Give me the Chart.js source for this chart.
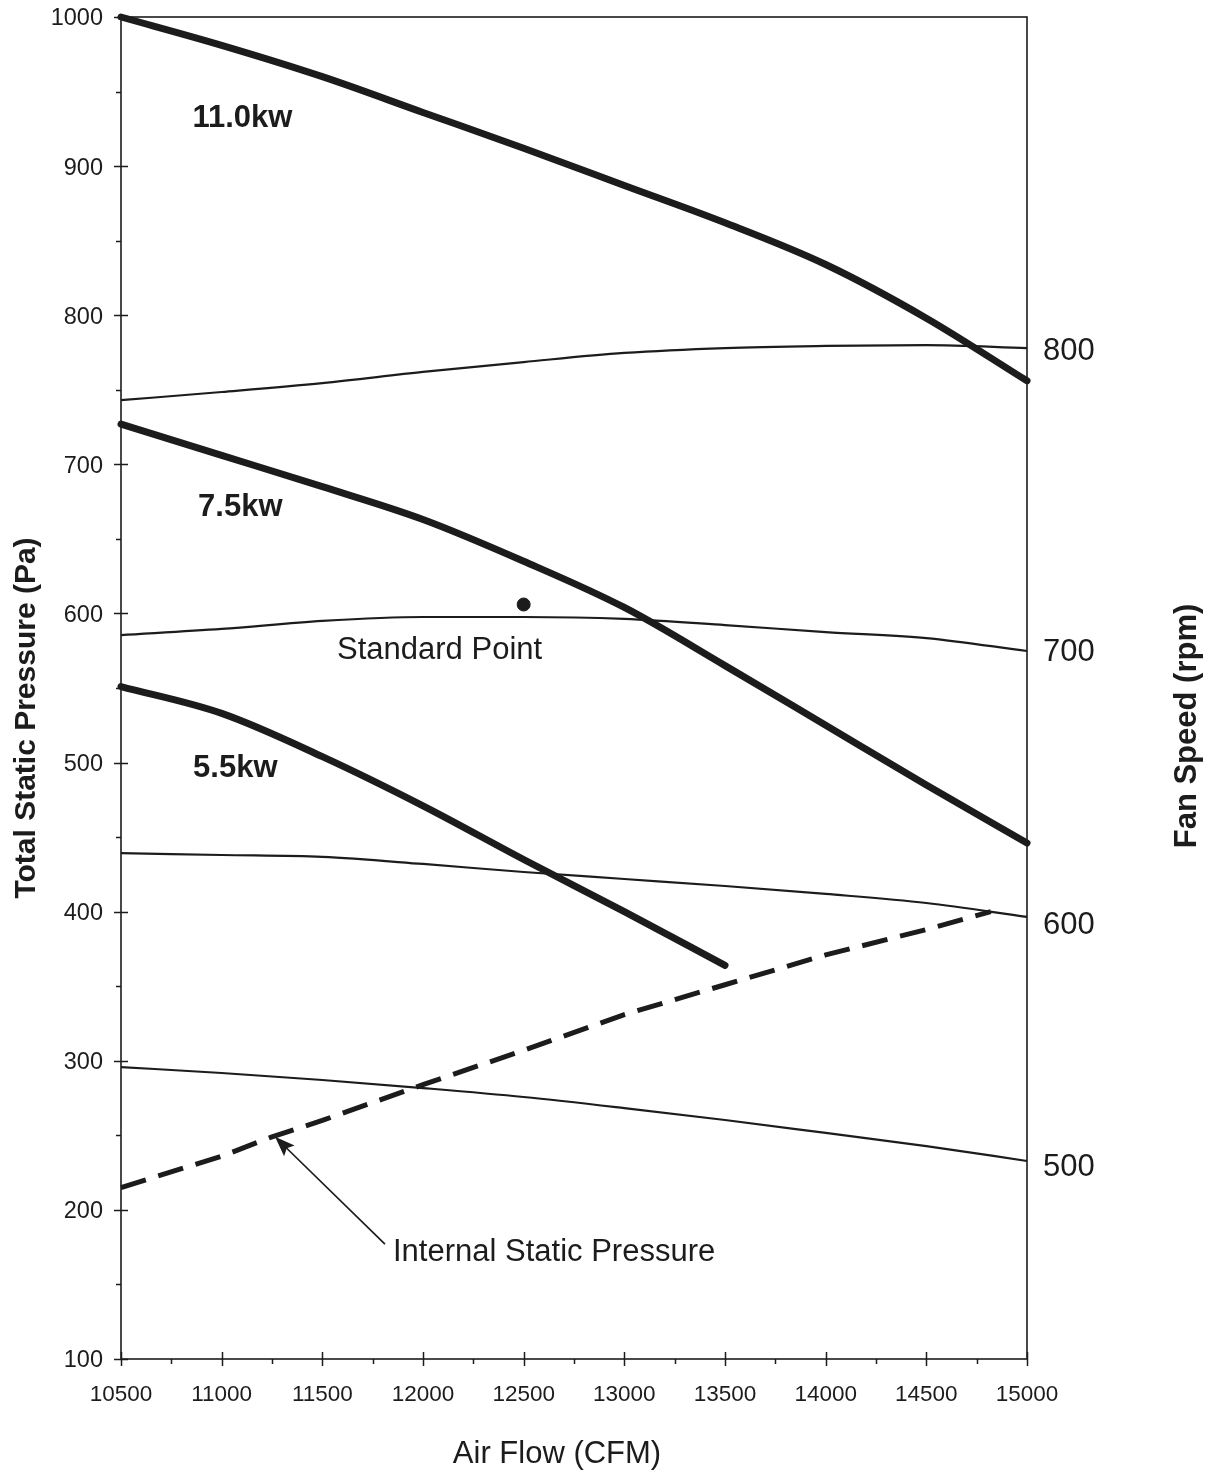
<!DOCTYPE html>
<html>
<head>
<meta charset="utf-8">
<script src="https://cdn.jsdelivr.net/npm/chart.js@4/dist/chart.umd.min.js"></script>
<style>
  html, body { margin: 0; padding: 0; background: #fff; }
  #wrap { width: 1212px; height: 1474px; }
</style>
</head>
<body>
<div id="wrap"><canvas id="c" width="1212" height="1474"></canvas></div>
<script>
// Air flow (CFM) sample positions
const airflow = [10500, 11000, 11500, 12000, 12500, 13000, 13500, 14000, 14500, 15000];
const airflow55 = [10500, 11000, 11500, 12000, 12500, 13000, 13500];

// Total static pressure (Pa) for each motor power
const kw110 = [1000, 981, 960, 936, 912, 887, 862, 834, 798, 756];
const kw75 = [727, 706, 685, 663, 635, 604, 565, 525, 485, 446];
const kw55 = [551, 533, 504, 471, 435, 400, 364];

// Constant fan-speed curves (Pa)
const rpm800 = [743, 748.5, 754.5, 762, 768.6, 774.7, 778, 779.4, 780, 778];
const rpm700 = [585.5, 589.6, 595, 597.6, 597.6, 596.3, 592.2, 587.5, 583.5, 574.8];
const rpm600 = [439.3, 438, 436.7, 432, 426.6, 421.9, 417.2, 411.9, 405.8, 396.5];
const rpm500 = [295.8, 291.8, 287.1, 281.7, 275.7, 268.3, 260.3, 251.6, 242.8, 232.8];

// Internal static pressure of the unit
const internalFlow = [10500, 11000, 11250, 11500, 12000, 12500, 13000, 13500, 14000, 14500, 14820];
const internalPa = [215, 236, 249, 260, 284, 307, 331, 351, 371, 388, 400];

// Standard operating point
const standardFlow = [12500];
const standardPa = [606];

// Fan speed labels on the right-hand axis and where they sit (Pa)
const fanSpeedLabels = ['800', '700', '600', '500'];
const fanSpeedLabelPa = [777, 575.5, 392.4, 230.1];

const FONT = "'Liberation Sans', Arial, Helvetica, sans-serif";
const INK = '#1c1c1c';

function pts(xs, ys) { return ys.map((y, i) => ({ x: xs[i], y: y })); }

const thick = { borderColor: INK, borderWidth: 7, pointRadius: 0, fill: false,
  cubicInterpolationMode: 'monotone', borderCapStyle: 'round', borderJoinStyle: 'round', clip: false };
const thin = { borderColor: INK, borderWidth: 2.2, pointRadius: 0, fill: false,
  cubicInterpolationMode: 'monotone', clip: false };

// Text notes placed in data coordinates
const notes = [
  { text: '11.0kw', flow: 10855, pa: 932, bold: true },
  { text: '7.5kw', flow: 10883, pa: 671, bold: true },
  { text: '5.5kw', flow: 10858, pa: 496, bold: true },
  { text: 'Standard Point', flow: 11573, pa: 575.5, bold: false },
  { text: 'Internal Static Pressure', flow: 11851, pa: 171.5, bold: false }
];
const pointer = { fromFlow: 11811, fromPa: 177, toFlow: 11265, toPa: 249 };

// Remove the automatic label overhang so the plot frame sits where the layout says
function noOverhang(s) { s.paddingTop = 0; s.paddingBottom = 0; s.paddingLeft = 0; s.paddingRight = 0; }

// Frame, crossing major ticks and outside minor ticks
const axisDecor = {
  id: 'axisDecor',
  beforeDatasetsDraw(chart) {
    const { ctx, chartArea: a, scales } = chart;
    const xs = scales.x, ys = scales.y;
    ctx.save();
    ctx.strokeStyle = INK;
    ctx.lineWidth = 1.6;
    ctx.strokeRect(a.left, a.top, a.right - a.left, a.bottom - a.top);
    ctx.lineWidth = 1.5;
    ctx.beginPath();
    for (let v = ys.min; v <= ys.max + 1e-6; v += 50) {
      const py = Math.round(ys.getPixelForValue(v)) + 0.5;
      const major = Math.abs(v % 100) < 1e-6;
      ctx.moveTo(a.left - (major ? 7 : 5), py);
      ctx.lineTo(a.left + (major ? 7 : 0), py);
    }
    for (let v = xs.min; v <= xs.max + 1e-6; v += 250) {
      const px = Math.round(xs.getPixelForValue(v)) + 0.5;
      const major = Math.abs((v - xs.min) % 500) < 1e-6;
      ctx.moveTo(px, a.bottom + (major ? 7 : 5));
      ctx.lineTo(px, a.bottom - (major ? 7 : 0));
    }
    ctx.stroke();
    ctx.restore();
  },
  afterDraw(chart) {
    const { ctx, chartArea: a, scales } = chart;
    const xs = scales.x, ys = scales.y;
    ctx.save();
    ctx.fillStyle = INK;
    ctx.textBaseline = 'middle';
    ctx.textAlign = 'left';
    notes.forEach(n => {
      ctx.font = (n.bold ? 'bold ' : '') + '31px ' + FONT;
      ctx.fillText(n.text, xs.getPixelForValue(n.flow), ys.getPixelForValue(n.pa));
    });
    // pointer arrow to the internal static pressure line
    const x0 = xs.getPixelForValue(pointer.fromFlow), y0 = ys.getPixelForValue(pointer.fromPa);
    const x1 = xs.getPixelForValue(pointer.toFlow), y1 = ys.getPixelForValue(pointer.toPa);
    const ang = Math.atan2(y1 - y0, x1 - x0);
    const c = Math.cos(ang), s = Math.sin(ang);
    const headLen = 20, headW = 7.5;
    ctx.strokeStyle = INK;
    ctx.lineWidth = 1.7;
    ctx.beginPath();
    ctx.moveTo(x0, y0);
    ctx.lineTo(x1 - c * headLen * 0.8, y1 - s * headLen * 0.8);
    ctx.stroke();
    ctx.beginPath();
    ctx.moveTo(x1, y1);
    ctx.lineTo(x1 - c * headLen + s * headW, y1 - s * headLen - c * headW);
    ctx.lineTo(x1 - c * headLen * 0.82, y1 - s * headLen * 0.82);
    ctx.lineTo(x1 - c * headLen - s * headW, y1 - s * headLen + c * headW);
    ctx.closePath();
    ctx.fill();

    // axis titles
    ctx.textAlign = 'center';
    ctx.save();
    ctx.font = 'bold 30px ' + FONT;
    ctx.translate(a.left - 94, (a.top + a.bottom) / 2 + 30);
    ctx.rotate(-Math.PI / 2);
    ctx.fillText('Total Static Pressure (Pa)', 0, 0);
    ctx.restore();
    ctx.save();
    ctx.font = 'bold 31px ' + FONT;
    ctx.translate(a.right + 160, (a.top + a.bottom) / 2 + 38);
    ctx.rotate(-Math.PI / 2);
    ctx.fillText('Fan Speed (rpm)', 0, 0);
    ctx.restore();
    ctx.font = '31px ' + FONT;
    ctx.fillText('Air Flow (CFM)', (a.left + a.right) / 2 - 17, a.bottom + 95);
    ctx.restore();
  }
};

new Chart(document.getElementById('c'), {
  type: 'line',
  data: {
    datasets: [
      { ...thick, data: pts(airflow, kw110) },
      { ...thick, data: pts(airflow, kw75) },
      { ...thick, data: pts(airflow55, kw55) },
      { ...thin, data: pts(airflow, rpm800) },
      { ...thin, data: pts(airflow, rpm700) },
      { ...thin, data: pts(airflow, rpm600) },
      { ...thin, data: pts(airflow, rpm500) },
      { data: pts(internalFlow, internalPa), borderColor: INK, borderWidth: 5, borderDash: [26, 13],
        pointRadius: 0, fill: false, tension: 0, clip: false },
      { type: 'scatter', data: pts(standardFlow, standardPa), backgroundColor: INK, borderColor: INK,
        pointRadius: 6.5, pointHoverRadius: 6.5, showLine: false }
    ]
  },
  options: {
    responsive: false,
    animation: false,
    events: [],
    layout: { padding: { top: 17, left: 0, right: 0, bottom: 0 } },
    plugins: { legend: { display: false }, tooltip: { enabled: false }, title: { display: false } },
    scales: {
      x: {
        type: 'linear', position: 'bottom', min: 10500, max: 15000,
        afterFit(s) { s.height = 115; noOverhang(s); },
        grid: { display: false, drawTicks: false },
        border: { display: false },
        ticks: { stepSize: 500, padding: 22, color: INK, font: { family: FONT, size: 22.5 },
          callback: v => String(v), maxRotation: 0, autoSkip: false }
      },
      y: {
        type: 'linear', position: 'left', min: 100, max: 1000,
        afterFit(s) { s.width = 121; noOverhang(s); },
        grid: { display: false, drawTicks: false },
        border: { display: false },
        ticks: { stepSize: 100, padding: 18, labelOffset: 2, color: INK, font: { family: FONT, size: 23.5 },
          callback: v => String(v) }
      },
      rpm: {
        type: 'linear', position: 'right', min: 100, max: 1000,
        afterFit(s) { s.width = 185; noOverhang(s); },
        afterBuildTicks(s) { s.ticks = fanSpeedLabelPa.map(v => ({ value: v })); },
        grid: { display: false, drawTicks: false },
        border: { display: false },
        ticks: { padding: 16, labelOffset: 2, color: INK, font: { family: FONT, size: 31 },
          callback: (v, i) => fanSpeedLabels[i] }
      }
    }
  },
  plugins: [axisDecor]
});
</script>
</body>
</html>
